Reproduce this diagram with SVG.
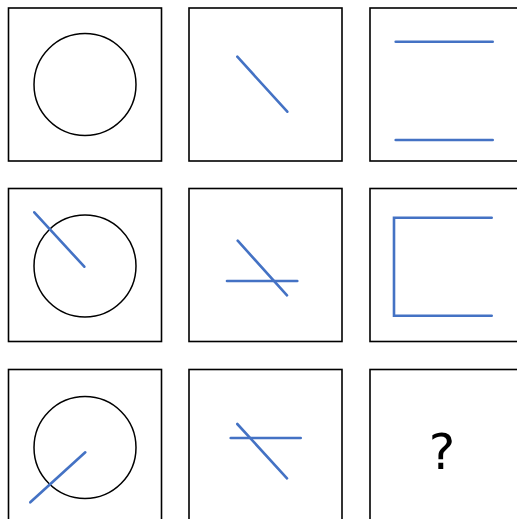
<svg xmlns="http://www.w3.org/2000/svg" width="517" height="519" viewBox="0 0 517 519">
<style>
.box{fill:#fff;stroke:#000;stroke-width:1.6}
.c{fill:none;stroke:#000;stroke-width:1.5}
.b{fill:none;stroke:#4472C4;stroke-width:2.6;stroke-linecap:round}
</style>
<rect width="517" height="519" fill="#fff"/>
<g id="p11"><rect class="box" x="8.5" y="8" width="153" height="153"/><circle class="c" cx="85" cy="84.5" r="51"/></g>
<g id="p12"><rect class="box" x="189" y="8" width="153" height="153"/><line class="b" x1="237.3" y1="56.7" x2="287.3" y2="111.7"/></g>
<g id="p13"><rect class="box" x="370" y="8" width="153" height="153"/><line class="b" x1="395.7" y1="41.7" x2="492.7" y2="41.7"/><line class="b" x1="395.7" y1="140" x2="492.7" y2="140"/></g>
<g id="p21"><rect class="box" x="8.5" y="188.5" width="153" height="153"/><circle class="c" cx="85" cy="266" r="51"/><line class="b" x1="34.3" y1="212.3" x2="84.3" y2="266.7"/></g>
<g id="p22"><rect class="box" x="189" y="188.5" width="153" height="153"/><line class="b" x1="237.7" y1="240.7" x2="287" y2="295.3"/><line class="b" x1="227" y1="281" x2="297.3" y2="281"/></g>
<g id="p23"><rect class="box" x="370" y="188.5" width="153" height="153"/><path class="b" d="M491.7 217.7H394V315.7H491.7"/></g>
<g id="p31"><rect class="box" x="8.5" y="369.5" width="153" height="153"/><circle class="c" cx="85" cy="447.5" r="51"/><line class="b" x1="85.3" y1="452.3" x2="30.3" y2="502.3"/></g>
<g id="p32"><rect class="box" x="189" y="369.5" width="153" height="153"/><line class="b" x1="237.3" y1="424" x2="287" y2="478.3"/><line class="b" x1="230.7" y1="438" x2="300.7" y2="438"/></g>
<g id="p33"><rect class="box" x="370" y="369.5" width="153" height="153"/><text x="442" y="469" font-family="DejaVu Sans, sans-serif" font-size="50" text-anchor="middle">?</text></g>
</svg>
